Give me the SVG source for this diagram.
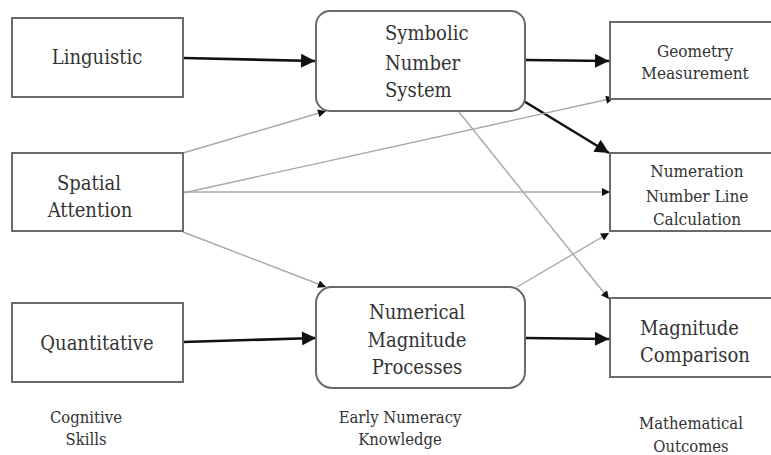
<svg xmlns="http://www.w3.org/2000/svg" width="771" height="455" viewBox="0 0 771 455">
<style>
.box{fill:#fff;stroke:#6a6a6a;stroke-width:2}
text{fill:#333;text-anchor:middle}
.big{font-size:20px}
.mid{font-size:17px}
.sm{font-size:16.5px}
.st{text-anchor:start}
.thick{stroke:#111;stroke-width:2.6;fill:none}
.thin{stroke:#a8a8a8;stroke-width:1.4;fill:none}
</style>
<defs>
<marker id="ah" viewBox="0 0 10 10" refX="10" refY="5" markerWidth="18" markerHeight="14" markerUnits="userSpaceOnUse" orient="auto">
<path d="M0,0 L10,5 L0,10 z" fill="#111"/>
</marker>
<marker id="as" viewBox="0 0 10 10" refX="10" refY="5" markerWidth="9" markerHeight="8" markerUnits="userSpaceOnUse" orient="auto">
<path d="M0,0 L10,5 L0,10 z" fill="#111"/>
</marker>
</defs>
<rect width="771" height="455" fill="#fff"/>
<g id="connectors">
<line class="thick" x1="183" y1="58" x2="315" y2="61" marker-end="url(#ah)"/>
<line class="thick" x1="525" y1="60" x2="609" y2="61" marker-end="url(#ah)"/>
<line class="thick" x1="522" y1="100" x2="609" y2="153" marker-end="url(#ah)"/>
<line class="thin" x1="183" y1="153" x2="326" y2="111" marker-end="url(#as)"/>
<line class="thin" x1="183" y1="193" x2="614" y2="98" marker-end="url(#as)"/>
<line class="thin" x1="183" y1="192" x2="610" y2="192" marker-end="url(#as)"/>
<line class="thin" x1="183" y1="232" x2="326" y2="287" marker-end="url(#as)"/>
<line class="thick" x1="183" y1="342" x2="316" y2="338" marker-end="url(#ah)"/>
<line class="thick" x1="525" y1="338" x2="609" y2="339" marker-end="url(#ah)"/>
<line class="thin" x1="517" y1="287" x2="609" y2="233" marker-end="url(#as)"/>
<line class="thin" x1="459" y1="112" x2="609" y2="299" marker-end="url(#as)"/>
</g>
<g font-family="'DejaVu Serif Condensed', 'DejaVu Serif', serif" font-stretch="condensed">
<g id="linguistic">
<rect class="box" x="12" y="18" width="171" height="79"/>
<text class="big" x="97" y="64">Linguistic</text>
</g>
<g id="spatial">
<rect class="box" x="12" y="153" width="171" height="78"/>
<text class="big" x="89" y="190">Spatial</text>
<text class="big" x="90" y="217">Attention</text>
</g>
<g id="quantitative">
<rect class="box" x="12" y="303" width="171" height="79"/>
<text class="big" x="97" y="350">Quantitative</text>
</g>
<g id="symbolic">
<rect class="box" x="316" y="11" width="209" height="100" rx="14"/>
<text class="big st" x="385" y="40">Symbolic</text>
<text class="big st" x="385" y="70">Number</text>
<text class="big st" x="385" y="97">System</text>
</g>
<g id="numerical">
<rect class="box" x="316" y="287" width="209" height="101" rx="16"/>
<text class="big" x="417" y="319">Numerical</text>
<text class="big" x="417" y="347">Magnitude</text>
<text class="big" x="417" y="374">Processes</text>
</g>
<g id="geometry">
<rect class="box" x="610" y="22" width="180" height="77"/>
<text class="mid" x="695" y="57">Geometry</text>
<text class="mid" x="695" y="79">Measurement</text>
</g>
<g id="numeration">
<rect class="box" x="610" y="153" width="180" height="78"/>
<text class="mid" x="697" y="177">Numeration</text>
<text class="mid" x="697" y="202">Number Line</text>
<text class="mid" x="697" y="225">Calculation</text>
</g>
<g id="comparison">
<rect class="box" x="610" y="298" width="180" height="79"/>
<text class="big st" x="640" y="335">Magnitude</text>
<text class="big st" x="640" y="362">Comparison</text>
</g>
<g id="labels">
<text class="sm" x="86" y="423">Cognitive</text>
<text class="sm" x="86" y="445">Skills</text>
<text class="sm" x="400" y="423">Early Numeracy</text>
<text class="sm" x="400" y="445">Knowledge</text>
<text class="sm" x="691" y="429">Mathematical</text>
<text class="sm" x="691" y="452">Outcomes</text>
</g>
</g>
</svg>
